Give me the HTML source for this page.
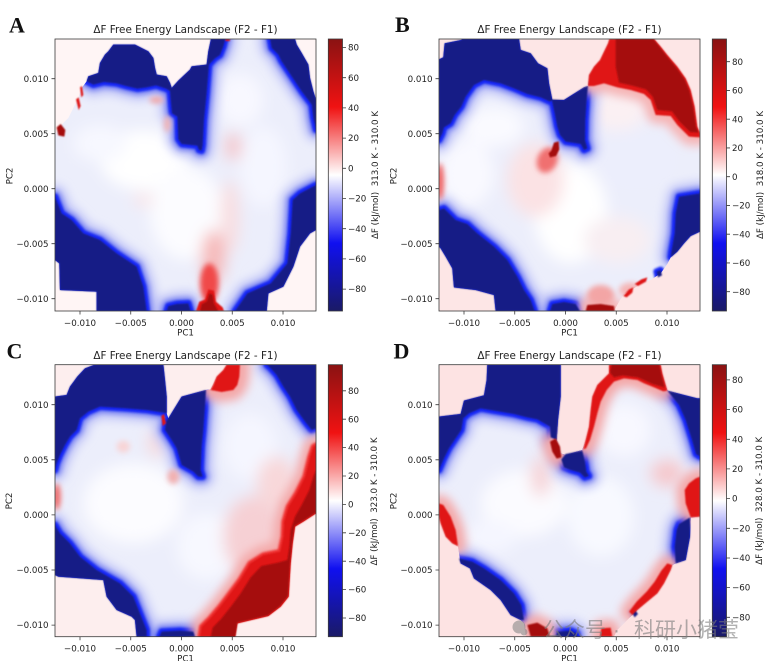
<!DOCTYPE html>
<html><head><meta charset="utf-8"><style>
html,body{margin:0;padding:0;background:#fff;}
svg{display:block;}
text{font-family:"DejaVu Sans","Liberation Sans",sans-serif;fill:#222;}
.t{font-size:8.7px;}
.ti{font-size:10.4px;}
.lt{font-family:"Liberation Serif",serif;font-weight:bold;font-size:22px;fill:#111;}
.wm{font-family:"Liberation Sans","Noto Sans CJK SC",sans-serif;font-size:21px;fill:#7c7c7c;}
</style></head><body>
<svg width="768" height="661" viewBox="0 0 768 661" xmlns="http://www.w3.org/2000/svg">
<defs>
<linearGradient id="cm" x1="0" y1="1" x2="0" y2="0">
<stop offset="0" stop-color="#1a1a66"/><stop offset="0.25" stop-color="#1010f0"/><stop offset="0.5" stop-color="#ffffff"/><stop offset="0.75" stop-color="#f01212"/><stop offset="1" stop-color="#8a1212"/>
</linearGradient>
<filter id="f1" filterUnits="userSpaceOnUse" x="0" y="0" width="1200" height="1100"><feGaussianBlur stdDeviation="2.5"/></filter>
<filter id="f0" filterUnits="userSpaceOnUse" x="0" y="0" width="1200" height="1100"><feGaussianBlur stdDeviation="3"/></filter>
<filter id="f2" filterUnits="userSpaceOnUse" x="0" y="0" width="1200" height="1100"><feGaussianBlur stdDeviation="8"/></filter>
<filter id="f4" filterUnits="userSpaceOnUse" x="0" y="0" width="1200" height="1100"><feGaussianBlur stdDeviation="14"/></filter>
<filter id="f3" filterUnits="userSpaceOnUse" x="0" y="0" width="1200" height="1100"><feGaussianBlur stdDeviation="22"/></filter>
<clipPath id="pAB"><rect x="165" y="117" width="783" height="816"/></clipPath>
<clipPath id="pCD"><rect x="165" y="104" width="783" height="816"/></clipPath>

<clipPath id="ciA"><polygon points="165,404 185,374 205,354 220,324 235,294 245,264 260,244 265,229 295,219 300,189 315,164 325,154 340,134 405,134 425,144 445,154 460,174 465,204 470,224 500,229 510,249 515,264 535,242 570,209 575,199 620,194 625,154 633,117 885,117 890,134 905,159 925,194 930,234 940,274 948,299 948,690 930,700 900,740 880,800 850,860 805,880 800,933 290,933 290,875 180,870 178,790 165,780"/></clipPath>
<polygon id="dA1" points="260,244 265,229 295,219 300,189 315,164 325,154 340,134 405,134 425,144 445,154 460,174 465,204 470,224 500,229 510,249 515,264 518,278 498,266 468,256 440,262 412,266 378,258 350,250 312,246 280,254"/>
<polygon id="dA2" points="510,274 515,264 535,242 570,209 575,199 620,194 625,154 633,117 676,117 670,140 660,165 645,175 627,194 620,280 612,360 608,435 605,452 597,450 592,437 545,432 535,418 532,350 516,340 512,300"/>
<polygon id="dA3" points="885,117 890,134 905,159 925,194 930,234 940,274 948,299 948,389 940,354 935,314 905,274 885,244 865,214 845,184 835,164 815,144 810,117"/>
<polygon id="dA4" points="165,590 185,640 215,660 250,700 300,720 350,760 410,800 430,860 440,933 290,933 290,875 180,870 178,790 165,780"/>
<polygon id="dA5" points="948,555 900,580 878,600 872,700 862,790 812,850 742,880 705,933 800,933 805,880 850,860 880,800 900,740 930,700 948,690"/>
<polygon id="dA6" points="500,933 505,918 530,912 565,910 572,933"/>
<polygon id="rA1" points="588,933 598,905 615,898 625,868 642,872 648,905 668,922 672,933"/>
<polygon id="rA2" points="170,382 182,372 196,390 193,410 175,406"/>
<polygon id="rA3" points="228,298 236,292 242,318 236,330"/>
<polygon id="rA4" points="240,262 246,258 250,285 244,292"/>

<clipPath id="ciB"><polygon points="165,178 178,172 182,130 232,120 235,117 405,117 410,150 440,160 462,190 490,205 495,250 505,300 540,300 600,262 612,258 615,225 630,200 648,180 660,155 672,130 676,117 810,117 830,140 850,165 880,200 905,235 920,270 932,320 940,380 948,400 948,695 920,708 900,730 880,755 860,772 850,792 830,820 800,840 770,852 748,866 722,880 708,900 698,918 690,933 335,933 330,885 275,870 210,862 205,805 185,770 170,745 165,740"/></clipPath>
<polygon id="dB1" points="165,178 178,172 182,130 232,120 235,117 405,117 410,150 440,160 462,190 490,205 495,250 505,300 498,305 470,292 430,282 390,265 350,250 300,240 270,255 245,290 232,320 212,345 200,370 180,382 175,400 165,420"/>
<polygon id="dB2" points="503,298 540,300 600,262 612,258 608,300 604,360 603,420 610,445 600,450 590,432 545,425 528,405 520,380 512,340"/>
<polygon id="dB3" points="165,630 180,625 215,660 250,672 280,700 330,740 370,780 400,830 420,870 440,900 452,933 335,933 330,885 275,870 210,862 205,805 185,770 170,745 165,740"/>
<polygon id="dB4" points="948,580 885,590 875,640 872,700 862,755 860,772 880,755 900,730 920,708 948,695"/>
<polygon id="dB5" points="498,933 505,912 540,906 575,912 588,933"/>
<polygon id="dB6" points="818,815 830,810 834,826 822,832"/>
<polygon id="rB1" points="612,258 615,225 630,200 648,180 660,155 672,130 676,117 810,117 830,140 850,165 880,200 905,235 920,270 932,320 940,380 948,400 948,412 915,410 880,375 860,348 815,345 800,300 780,282 740,270 700,262 660,250 630,258"/>
<polygon id="rB2" points="494,460 502,452 510,428 524,424 526,448 516,468 498,472"/>
<polygon id="rB3" points="605,933 610,915 650,912 690,918 692,933"/>
<polygon id="rB4" points="718,888 735,868 748,862 745,878 728,892"/>
<polygon id="rB5" points="752,852 772,838 790,832 786,845 762,858"/>

<clipPath id="ciC"><polygon points="165,200 200,195 210,170 232,140 255,115 285,104 490,104 495,150 500,200 500,250 505,265 545,200 600,185 618,180 632,178 650,140 670,120 680,104 948,104 948,550 910,575 885,590 878,640 872,700 866,800 842,830 805,858 712,880 705,920 410,920 405,870 395,860 350,840 320,800 310,750 175,740 165,735"/></clipPath>
<polygon id="dC1" points="165,200 200,195 210,170 232,140 255,115 285,104 490,104 495,150 500,200 500,250 490,248 440,240 380,235 300,230 265,245 240,265 230,300 210,320 195,345 180,375 170,400 165,420"/>
<polygon id="dC2" points="505,265 545,200 600,185 618,180 615,230 610,300 605,350 602,420 608,440 595,440 580,425 545,405 530,355 515,330 495,300 498,275"/>
<polygon id="dC3" points="800,104 948,104 948,295 935,300 915,275 890,240 870,200 850,170 830,135 812,115"/>
<polygon id="dC4" points="165,585 180,610 210,640 240,680 290,720 360,760 400,800 420,850 440,900 440,920 410,920 405,870 395,860 350,840 320,800 310,750 175,740 165,735"/>
<polygon id="dC5" points="478,920 485,905 540,902 580,905 585,920"/>
<polygon id="rC1" points="600,920 605,890 630,865 660,830 690,790 720,750 750,700 790,675 840,665 850,620 852,575 865,530 890,490 915,440 930,380 940,350 948,345 948,550 910,575 885,590 878,640 872,700 866,800 842,830 805,858 712,880 705,920"/>
<polygon id="rC2" points="632,180 640,165 650,140 670,120 680,104 720,104 718,140 712,165 700,180 665,186"/>
<polygon id="rC3" points="484,258 492,252 498,280 488,288"/>

<clipPath id="ciD"><polygon points="165,260 230,252 240,212 300,196 308,150 310,104 530,104 530,200 522,270 518,330 530,370 545,375 595,360 605,330 615,290 620,240 625,200 640,165 660,145 675,130 675,104 830,104 835,130 850,182 900,195 940,205 948,205 948,560 920,562 918,620 905,690 875,700 865,705 860,720 840,760 820,790 790,815 760,840 740,860 720,880 700,900 690,920 425,920 420,880 410,870 380,855 350,810 320,780 270,745 258,715 230,700 222,650 205,640 185,620 170,580 165,560"/></clipPath>
<polygon id="dD1" points="165,260 230,252 240,212 300,196 308,150 310,104 530,104 530,200 522,270 518,330 500,322 498,290 460,268 430,262 390,252 330,242 290,235 255,250 238,265 232,300 215,325 195,355 180,385 165,420"/>
<polygon id="dD2" points="532,388 545,372 595,362 603,395 607,425 615,438 602,442 588,428 560,420 540,412"/>
<polygon id="dD3" points="850,182 900,195 940,205 948,205 948,380 936,372 924,330 905,270 885,225"/>
<polygon id="dD4" points="875,700 872,650 878,600 885,582 918,562 918,620 905,690"/>
<polygon id="dD5" points="225,685 265,695 300,715 350,750 390,790 412,825 420,870 410,870 380,855 350,810 320,780 270,745 258,715 230,700"/>
<polygon id="dD6" points="515,920 520,905 560,902 578,910 580,920"/>
<polygon id="dD7" points="742,845 752,838 762,852 752,862"/>
<polygon id="rD1" points="675,104 830,104 835,130 850,182 838,184 810,172 780,160 760,150 720,145 690,155 668,180 650,215 640,250 630,290 618,330 606,355 598,358 605,330 615,290 620,240 625,200 640,165 660,145 675,130"/>
<polygon id="rD2" points="498,335 515,325 528,350 532,382 518,386 505,365"/>
<polygon id="rD3" points="165,520 178,525 200,560 215,600 222,648 205,640 185,620 170,580 165,560"/>
<polygon id="rD4" points="948,440 948,560 920,562 905,520 902,480 915,460 935,445"/>
<polygon id="rD5" points="865,705 860,720 840,760 820,790 790,815 760,840 745,855 735,845 758,815 788,785 812,755 832,722 850,700"/>
<polygon id="rD6" points="430,885 460,878 490,895 498,920 440,920"/>
<polygon id="rD7" points="648,920 652,895 680,893 685,920"/>
</defs>

<rect width="768" height="661" fill="#fff"/>

<!-- ================= PANEL A ================= -->
<g transform="scale(0.333333)">
 <g clip-path="url(#pAB)">
  <rect x="165" y="117" width="783" height="816" fill="#fff5f5"/>
  <g clip-path="url(#ciA)">
   <rect x="165" y="117" width="783" height="816" fill="#eceefb"/>
   <g filter="url(#f3)">
    <ellipse cx="430" cy="480" rx="130" ry="90" fill="#ffffff"/>
    <ellipse cx="560" cy="640" rx="110" ry="140" fill="#fcfcff"/>
    <ellipse cx="720" cy="300" rx="70" ry="80" fill="#f8f8ff"/>
    <ellipse cx="790" cy="500" rx="70" ry="120" fill="#f5f6ff"/>
    <ellipse cx="300" cy="430" rx="80" ry="55" fill="#f7f8ff"/>
    <ellipse cx="690" cy="650" rx="28" ry="110" fill="#f8dde0"/>
    <ellipse cx="640" cy="770" rx="35" ry="80" fill="#f6b8b8"/>
    <ellipse cx="700" cy="440" rx="24" ry="42" fill="#f4c6cb"/>
    <ellipse cx="430" cy="600" rx="30" ry="20" fill="#fbe6e8"/>
   </g>
   <g fill="none" stroke="#bfc3f7" stroke-width="70" stroke-linejoin="round" filter="url(#f4)">
    <use href="#dA1"/><use href="#dA2"/><use href="#dA3"/><use href="#dA4"/><use href="#dA5"/><use href="#dA6"/>
   </g>
   <g fill="none" stroke="#6f7af2" stroke-width="36" stroke-linejoin="round" filter="url(#f2)">
    <use href="#dA1"/><use href="#dA2"/><use href="#dA3"/><use href="#dA4"/><use href="#dA5"/><use href="#dA6"/>
   </g>
   <g fill="none" stroke="#1626f5" stroke-width="20" stroke-linejoin="round" filter="url(#f0)">
    <use href="#dA1"/><use href="#dA2"/><use href="#dA3"/><use href="#dA4"/><use href="#dA5"/><use href="#dA6"/>
   </g>
   <g filter="url(#f2)">
    <ellipse cx="628" cy="850" rx="28" ry="60" fill="#f04848"/>
    <ellipse cx="470" cy="300" rx="22" ry="10" fill="#f2a8a8"/>
    <ellipse cx="502" cy="372" rx="10" ry="25" fill="#f2b2b2"/>
   </g>
  </g>
  <g fill="#171e86" filter="url(#f1)">
   <use href="#dA1"/><use href="#dA2"/><use href="#dA3"/><use href="#dA4"/><use href="#dA5"/><use href="#dA6"/>
  </g>
  <g fill="#e01818" filter="url(#f1)">
   <use href="#rA1"/><use href="#rA3"/><use href="#rA4"/>
   <rect x="676" y="117" width="14" height="6"/>
  </g>
  <g fill="#a51010" filter="url(#f1)"><use href="#rA2"/>
   <polygon points="600,933 605,912 620,905 628,880 638,884 642,910 655,933"/></g>
 </g>
</g>

<!-- ================= PANEL B ================= -->
<g transform="translate(384,0) scale(0.333333)">
 <g clip-path="url(#pAB)">
  <rect x="165" y="117" width="783" height="816" fill="#fde6e6"/>
  <g clip-path="url(#ciB)">
   <rect x="165" y="117" width="783" height="816" fill="#eceefb"/>
   <g filter="url(#f3)">
    <ellipse cx="250" cy="520" rx="80" ry="100" fill="#f9f9ff"/>
    <ellipse cx="560" cy="640" rx="110" ry="150" fill="#ffffff"/>
    <ellipse cx="330" cy="380" rx="90" ry="60" fill="#fafaff"/>
    <ellipse cx="760" cy="480" rx="120" ry="90" fill="#eceefc"/>
    <ellipse cx="455" cy="540" rx="85" ry="110" fill="#fbe2e4"/>
    <ellipse cx="700" cy="720" rx="100" ry="70" fill="#f8eef2"/>
    <ellipse cx="700" cy="330" rx="90" ry="60" fill="#fbf0f3"/>
   </g>
   <g fill="none" stroke="#bfc3f7" stroke-width="70" stroke-linejoin="round" filter="url(#f4)">
    <use href="#dB1"/><use href="#dB2"/><use href="#dB3"/><use href="#dB4"/><use href="#dB5"/>
   </g>
   <g fill="none" stroke="#6f7af2" stroke-width="36" stroke-linejoin="round" filter="url(#f2)">
    <use href="#dB1"/><use href="#dB2"/><use href="#dB3"/><use href="#dB4"/><use href="#dB5"/>
   </g>
   <g fill="none" stroke="#1626f5" stroke-width="20" stroke-linejoin="round" filter="url(#f0)">
    <use href="#dB1"/><use href="#dB2"/><use href="#dB3"/><use href="#dB4"/><use href="#dB5"/><use href="#dB6"/>
   </g>
   <g fill="none" stroke="#f6b4b4" stroke-width="50" stroke-linejoin="round" filter="url(#f4)">
    <use href="#rB1"/><use href="#rB3"/>
   </g>
   <g filter="url(#f2)">
    <ellipse cx="490" cy="480" rx="30" ry="40" fill="#f07070" transform="rotate(25 490 480)"/>
    <ellipse cx="168" cy="545" rx="12" ry="55" fill="#f06060"/>
    <ellipse cx="650" cy="885" rx="40" ry="30" fill="#f3a5a5"/>
    <ellipse cx="740" cy="870" rx="35" ry="22" fill="#f5b5b5"/>
   </g>
  </g>
  <g fill="#171e86" filter="url(#f1)">
   <use href="#dB1"/><use href="#dB2"/><use href="#dB3"/><use href="#dB4"/><use href="#dB5"/><use href="#dB6"/>
  </g>
  <g fill="#e01818" filter="url(#f1)">
   <use href="#rB1"/><use href="#rB4"/><use href="#rB5"/>
  </g>
  <g fill="#a51010" filter="url(#f1)">
   <polygon points="695,117 808,117 828,142 848,168 878,204 902,238 916,272 928,322 936,380 944,398 918,396 886,364 864,334 820,330 806,290 786,268 742,256 705,248 695,200"/>
   <use href="#rB2"/><use href="#rB3"/>
  </g>
 </g>
</g>

<!-- ================= PANEL C ================= -->
<g transform="translate(0,330) scale(0.333333)">
 <g clip-path="url(#pCD)">
  <rect x="165" y="104" width="783" height="816" fill="#fdeeee"/>
  <g clip-path="url(#ciC)">
   <rect x="165" y="104" width="783" height="816" fill="#eceefb"/>
   <g filter="url(#f3)">
    <ellipse cx="400" cy="520" rx="150" ry="120" fill="#fcfcff"/>
    <ellipse cx="620" cy="650" rx="90" ry="100" fill="#f7f8ff"/>
    <ellipse cx="750" cy="350" rx="80" ry="100" fill="#f5f6ff"/>
    <ellipse cx="760" cy="620" rx="90" ry="120" fill="#f6d0d4"/>
    <ellipse cx="830" cy="460" rx="60" ry="80" fill="#f8d8da"/>
    <ellipse cx="470" cy="340" rx="25" ry="40" fill="#f8d8da"/>
   </g>
   <g fill="none" stroke="#bfc3f7" stroke-width="70" stroke-linejoin="round" filter="url(#f4)">
    <use href="#dC1"/><use href="#dC2"/><use href="#dC3"/><use href="#dC4"/><use href="#dC5"/>
   </g>
   <g fill="none" stroke="#6f7af2" stroke-width="36" stroke-linejoin="round" filter="url(#f2)">
    <use href="#dC1"/><use href="#dC2"/><use href="#dC3"/><use href="#dC4"/><use href="#dC5"/>
   </g>
   <g fill="none" stroke="#1626f5" stroke-width="20" stroke-linejoin="round" filter="url(#f0)">
    <use href="#dC1"/><use href="#dC2"/><use href="#dC3"/><use href="#dC4"/><use href="#dC5"/>
   </g>
   <g fill="none" stroke="#f4a8a8" stroke-width="60" stroke-linejoin="round" filter="url(#f4)">
    <use href="#rC1"/><use href="#rC2"/>
   </g>
   <g fill="none" stroke="#f03030" stroke-width="16" stroke-linejoin="round" filter="url(#f0)">
    <use href="#rC1"/>
   </g>
   <g filter="url(#f2)">
    <ellipse cx="170" cy="500" rx="12" ry="40" fill="#ee6a6a"/>
    <ellipse cx="520" cy="440" rx="18" ry="22" fill="#f2b0b0"/>
    <ellipse cx="370" cy="350" rx="20" ry="18" fill="#f8d4d6"/>
   </g>
  </g>
  <g fill="#171e86" filter="url(#f1)">
   <use href="#dC1"/><use href="#dC2"/><use href="#dC3"/><use href="#dC4"/><use href="#dC5"/>
  </g>
  <g fill="#e01818" filter="url(#f1)">
   <use href="#rC1"/><use href="#rC2"/><use href="#rC3"/>
  </g>
  <g fill="#a51010" filter="url(#f1)">
   <polygon points="632,920 638,893 664,866 694,828 722,790 752,742 784,708 834,698 862,690 868,650 872,600 885,560 905,525 928,480 940,440 948,420 948,548 910,572 884,588 876,640 870,700 864,798 840,828 804,856 712,878 706,920"/>
  </g>
 </g>
</g>

<!-- ================= PANEL D ================= -->
<g transform="translate(384,330) scale(0.333333)">
 <g clip-path="url(#pCD)">
  <rect x="165" y="104" width="783" height="816" fill="#fde3e3"/>
  <g clip-path="url(#ciD)">
   <rect x="165" y="104" width="783" height="816" fill="#eceefb"/>
   <g filter="url(#f3)">
    <ellipse cx="420" cy="520" rx="130" ry="100" fill="#fbfbff"/>
    <ellipse cx="650" cy="560" rx="100" ry="120" fill="#f8f9ff"/>
    <ellipse cx="720" cy="300" rx="80" ry="80" fill="#f8f8ff"/>
    <ellipse cx="470" cy="440" rx="30" ry="60" fill="#f6d4d8"/>
    <ellipse cx="850" cy="430" rx="50" ry="40" fill="#f6c8cc"/>
    <ellipse cx="320" cy="620" rx="80" ry="50" fill="#f5f6ff"/>
   </g>
   <g fill="none" stroke="#bfc3f7" stroke-width="70" stroke-linejoin="round" filter="url(#f4)">
    <use href="#dD1"/><use href="#dD2"/><use href="#dD3"/><use href="#dD4"/><use href="#dD5"/><use href="#dD6"/>
   </g>
   <g fill="none" stroke="#6f7af2" stroke-width="36" stroke-linejoin="round" filter="url(#f2)">
    <use href="#dD1"/><use href="#dD2"/><use href="#dD3"/><use href="#dD4"/><use href="#dD5"/><use href="#dD6"/>
   </g>
   <g fill="none" stroke="#1626f5" stroke-width="20" stroke-linejoin="round" filter="url(#f0)">
    <use href="#dD1"/><use href="#dD2"/><use href="#dD3"/><use href="#dD4"/><use href="#dD5"/><use href="#dD6"/><use href="#dD7"/>
   </g>
   <g fill="none" stroke="#f4a8a8" stroke-width="50" stroke-linejoin="round" filter="url(#f4)">
    <use href="#rD1"/><use href="#rD2"/><use href="#rD3"/><use href="#rD4"/><use href="#rD5"/><use href="#rD6"/><use href="#rD7"/>
   </g>
  </g>
  <g fill="#171e86" filter="url(#f1)">
   <use href="#dD1"/><use href="#dD2"/><use href="#dD3"/><use href="#dD4"/><use href="#dD5"/><use href="#dD6"/><use href="#dD7"/>
  </g>
  <g fill="#e01818" filter="url(#f1)">
   <use href="#rD1"/><use href="#rD3"/><use href="#rD4"/><use href="#rD5"/><use href="#rD7"/>
  </g>
  <g fill="#a51010" filter="url(#f1)">
   <polygon points="682,104 826,104 832,132 842,172 806,162 762,142 716,136 690,142 678,128"/>
   <use href="#rD2"/><use href="#rD6"/>
  </g>
 </g>
</g>

<!-- ================= FRAMES, COLORBARS ================= -->
<g fill="none" stroke="#3a3a3a" stroke-width="0.8">
 <rect x="55" y="39" width="261" height="272"/>
 <rect x="439" y="39" width="261" height="272"/>
 <rect x="55" y="364.7" width="261" height="272"/>
 <rect x="439" y="364.7" width="261" height="272"/>
</g>
<g stroke="#3a3a3a" stroke-width="0.8">
 <rect x="328.3" y="39" width="14.2" height="272" fill="url(#cm)"/>
 <rect x="712.3" y="39" width="14.2" height="272" fill="url(#cm)"/>
 <rect x="328.3" y="364.7" width="14.2" height="272" fill="url(#cm)"/>
 <rect x="712.3" y="364.7" width="14.2" height="272" fill="url(#cm)"/>
</g>

<g stroke="#3a3a3a" stroke-width="0.8">
 <path d="M51.5 78.7H55M51.5 133.7H55M51.5 188.7H55M51.5 243.7H55M51.5 298.7H55"/>
 <path d="M80 311V314.5M130.75 311V314.5M181.5 311V314.5M232.25 311V314.5M283 311V314.5"/>
 <path d="M342.5 47.5H346M342.5 77.7H346M342.5 107.9H346M342.5 138.1H346M342.5 168.3H346M342.5 198.5H346M342.5 228.7H346M342.5 258.9H346M342.5 289.1H346"/>
 <path d="M435.5 78.7H439M435.5 133.7H439M435.5 188.7H439M435.5 243.7H439M435.5 298.7H439"/>
 <path d="M464 311V314.5M514.75 311V314.5M565.5 311V314.5M616.25 311V314.5M667 311V314.5"/>
 <path d="M726.5 61.7H730M726.5 90.45H730M726.5 119.2H730M726.5 147.95H730M726.5 176.7H730M726.5 205.45H730M726.5 234.2H730M726.5 262.95H730M726.5 291.7H730"/>
 <path d="M51.5 404.7H55M51.5 459.8H55M51.5 514.9H55M51.5 570H55M51.5 625.1H55"/>
 <path d="M80 636.7V640.2M130.75 636.7V640.2M181.5 636.7V640.2M232.25 636.7V640.2M283 636.7V640.2"/>
 <path d="M342.5 390.8H346M342.5 419.2H346M342.5 447.6H346M342.5 476H346M342.5 504.4H346M342.5 532.8H346M342.5 561.2H346M342.5 589.6H346M342.5 618H346"/>
 <path d="M435.5 404.7H439M435.5 459.8H439M435.5 514.9H439M435.5 570H439M435.5 625.1H439"/>
 <path d="M464 636.7V640.2M514.75 636.7V640.2M565.5 636.7V640.2M616.25 636.7V640.2M667 636.7V640.2"/>
 <path d="M726.5 379.9H730M726.5 409.6H730M726.5 439.3H730M726.5 468.9H730M726.5 498.6H730M726.5 528.3H730M726.5 558H730M726.5 587.6H730M726.5 617.3H730"/>
</g>

<text class="lt" x="9" y="32.3">A</text>
<text class="lt" x="395" y="32">B</text>
<text class="lt" x="6.5" y="358.3">C</text>
<text class="lt" x="393.5" y="358.3">D</text>

<g text-anchor="middle">
 <text class="ti" x="185.5" y="33">ΔF Free Energy Landscape (F2 - F1)</text>
 <text class="ti" x="569.5" y="33">ΔF Free Energy Landscape (F2 - F1)</text>
 <text class="ti" x="185.5" y="358.8">ΔF Free Energy Landscape (F2 - F1)</text>
 <text class="ti" x="569.5" y="358.8">ΔF Free Energy Landscape (F2 - F1)</text>
</g>

<g text-anchor="end">
 <text class="t" x="48.5" y="81.8">0.010</text><text class="t" x="48.5" y="136.8">0.005</text><text class="t" x="48.5" y="191.8">0.000</text><text class="t" x="48.5" y="246.8">−0.005</text><text class="t" x="48.5" y="301.8">−0.010</text>
 <text class="t" x="432.5" y="81.8">0.010</text><text class="t" x="432.5" y="136.8">0.005</text><text class="t" x="432.5" y="191.8">0.000</text><text class="t" x="432.5" y="246.8">−0.005</text><text class="t" x="432.5" y="301.8">−0.010</text>
 <text class="t" x="48.5" y="407.8">0.010</text><text class="t" x="48.5" y="462.9">0.005</text><text class="t" x="48.5" y="518">0.000</text><text class="t" x="48.5" y="573.1">−0.005</text><text class="t" x="48.5" y="628.2">−0.010</text>
 <text class="t" x="432.5" y="407.8">0.010</text><text class="t" x="432.5" y="462.9">0.005</text><text class="t" x="432.5" y="518">0.000</text><text class="t" x="432.5" y="573.1">−0.005</text><text class="t" x="432.5" y="628.2">−0.010</text>
</g>

<g text-anchor="middle">
 <text class="t" x="80" y="326">−0.010</text><text class="t" x="130.75" y="326">−0.005</text><text class="t" x="181.5" y="326">0.000</text><text class="t" x="232.25" y="326">0.005</text><text class="t" x="283" y="326">0.010</text>
 <text class="t" x="464" y="326">−0.010</text><text class="t" x="514.75" y="326">−0.005</text><text class="t" x="565.5" y="326">0.000</text><text class="t" x="616.25" y="326">0.005</text><text class="t" x="667" y="326">0.010</text>
 <text class="t" x="80" y="651.7">−0.010</text><text class="t" x="130.75" y="651.7">−0.005</text><text class="t" x="181.5" y="651.7">0.000</text><text class="t" x="232.25" y="651.7">0.005</text><text class="t" x="283" y="651.7">0.010</text>
 <text class="t" x="464" y="651.7">−0.010</text><text class="t" x="514.75" y="651.7">−0.005</text><text class="t" x="565.5" y="651.7">0.000</text><text class="t" x="616.25" y="651.7">0.005</text><text class="t" x="667" y="651.7">0.010</text>
 <text class="t" x="185.5" y="335.5">PC1</text><text class="t" x="569.5" y="335.5">PC1</text>
 <text class="t" x="185.5" y="661.5">PC1</text><text class="t" x="569.5" y="661.5">PC1</text>
 <text class="t" transform="translate(12.5,176) rotate(-90)">PC2</text>
 <text class="t" transform="translate(396.5,176) rotate(-90)">PC2</text>
 <text class="t" transform="translate(11.8,501) rotate(-90)">PC2</text>
 <text class="t" transform="translate(396.5,501) rotate(-90)">PC2</text>
 <text class="t" style="white-space:pre" transform="translate(378,175) rotate(-90)">ΔF (kJ/mol)  313.0 K - 310.0 K</text>
 <text class="t" style="white-space:pre" transform="translate(763,175) rotate(-90)">ΔF (kJ/mol)  318.0 K - 310.0 K</text>
 <text class="t" style="white-space:pre" transform="translate(377,501.5) rotate(-90)">ΔF (kJ/mol)  323.0 K - 310.0 K</text>
 <text class="t" style="white-space:pre" transform="translate(762,500.8) rotate(-90)">ΔF (kJ/mol)  328.0 K - 310.0 K</text>
</g>

<g>
 <text class="t" x="348" y="50.6">80</text><text class="t" x="348" y="80.8">60</text><text class="t" x="348" y="111">40</text><text class="t" x="348" y="141.2">20</text><text class="t" x="348" y="171.4">0</text><text class="t" x="348" y="201.6">−20</text><text class="t" x="348" y="231.8">−40</text><text class="t" x="348" y="262">−60</text><text class="t" x="348" y="292.2">−80</text>
 <text class="t" x="732" y="64.8">80</text><text class="t" x="732" y="93.5">60</text><text class="t" x="732" y="122.3">40</text><text class="t" x="732" y="151">20</text><text class="t" x="732" y="179.8">0</text><text class="t" x="732" y="208.5">−20</text><text class="t" x="732" y="237.3">−40</text><text class="t" x="732" y="266">−60</text><text class="t" x="732" y="294.8">−80</text>
 <text class="t" x="348" y="393.9">80</text><text class="t" x="348" y="422.3">60</text><text class="t" x="348" y="450.7">40</text><text class="t" x="348" y="479.1">20</text><text class="t" x="348" y="507.5">0</text><text class="t" x="348" y="535.9">−20</text><text class="t" x="348" y="564.3">−40</text><text class="t" x="348" y="592.7">−60</text><text class="t" x="348" y="621.1">−80</text>
 <text class="t" x="732" y="383">80</text><text class="t" x="732" y="412.7">60</text><text class="t" x="732" y="442.4">40</text><text class="t" x="732" y="472">20</text><text class="t" x="732" y="501.7">0</text><text class="t" x="732" y="531.4">−20</text><text class="t" x="732" y="561.1">−40</text><text class="t" x="732" y="590.7">−60</text><text class="t" x="732" y="620.4">−80</text>
</g>

<g opacity="0.6">
 <circle cx="519" cy="627" r="6.5" fill="#8a8a8a"/>
 <circle cx="524" cy="632" r="3.5" fill="#8a8a8a"/>
 <text class="wm" x="543" y="637">公众号</text>
 <text class="wm" x="613" y="637">·</text>
 <text class="wm" x="634" y="637">科研小猪莹</text>
</g>
</svg>
</body></html>
